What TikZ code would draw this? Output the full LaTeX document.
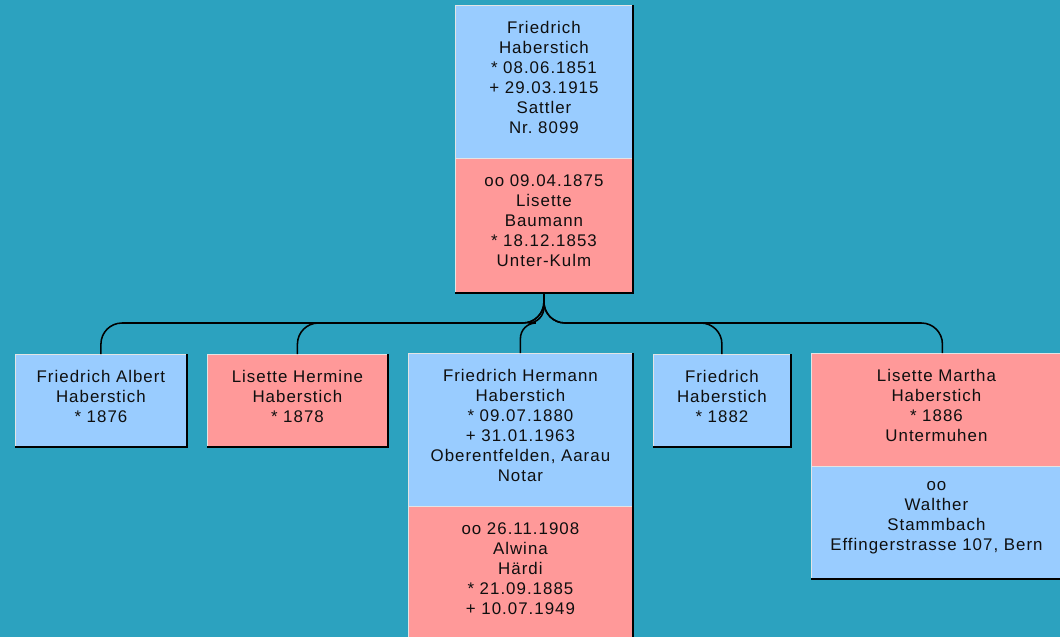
\documentclass[tikz,border=0pt]{standalone}
\usepackage{fontspec}
\setmainfont{Liberation Sans}[LetterSpace=6]
\usepackage{tikz}

\definecolor{bg}{RGB}{44,162,191}
\definecolor{male}{RGB}{153,204,255}
\definecolor{female}{RGB}{255,153,153}
\definecolor{rim}{RGB}{228,228,228}
\definecolor{ink}{RGB}{15,15,15}

\begin{document}
\begin{tikzpicture}[x=0.025cm,y=-0.025cm,
  size/.style 2 args={text width=#1*0.025cm,minimum height=#2*0.025cm},
  box/.style={draw=rim,line width=.6pt,anchor=north west,align=center,inner sep=0pt,
    font=\fontsize{12}{14.2}\selectfont,text=ink,execute at end node={\endgraf\kern0.22cm}},
  m/.style={box,fill=male},
  f/.style={box,fill=female},
  shade/.style={draw=black,line width=1pt},
  link/.style={draw=black,line width=1.1pt,rounded corners=15}]

\fill[bg] (0,0) rectangle (1060,637);
\useasboundingbox (0,0) rectangle (1060,637);
\clip (0,0) rectangle (1060,637);

\node[m,size={177}{153}] (fh) at (455,5) {Friedrich\\Haberstich\\{}* 08.06.1851\\+ 29.03.1915\\Sattler\\Nr.\ 8099};
\node[f,size={177}{134}] (fhm) at (455,158) {oo 09.04.1875\\Lisette\\Baumann\\{}* 18.12.1853\\Unter-Kulm};

\node[m,size={171}{92}] (c1) at (15,354) {Friedrich Albert\\Haberstich\\{}* 1876};
\node[f,size={180}{92}] (c2) at (207,354) {Lisette Hermine\\Haberstich\\{}* 1878};
\node[m,size={224}{153}] (c3) at (408,353) {Friedrich Hermann\\Haberstich\\{}* 09.07.1880\\+ 31.01.1963\\Oberentfelden, Aarau\\Notar};
\node[f,size={224}{134}] (c3m) at (408,506) {oo 26.11.1908\\Alwina\\Härdi\\{}* 21.09.1885\\+ 10.07.1949};
\node[m,size={137}{92}] (c4) at (653,354) {Friedrich\\Haberstich\\{}* 1882};
\node[f,size={250}{113}] (c5) at (811,353) {Lisette Martha\\Haberstich\\{}* 1886\\Untermuhen};
\node[m,size={250}{112}] (c5m) at (811,466) {oo\\Walther\\Stammbach\\Effingerstrasse 107, Bern};

\coordinate (bus) at (0,323);
\coordinate (c5in) at ([xshift=6*0.025cm]c5.north);

\draw[shade] (fh.north east) -- (fhm.south east) -- (fhm.south west);
\draw[shade] (c1.north east) |- (c1.south west);
\draw[shade] (c2.north east) |- (c2.south west);
\draw[shade] (c3.north east) |- (c3m.south west);
\draw[shade] (c4.north east) |- (c4.south west);
\draw[shade] (c5.north east) |- (c5m.south west);

\draw[link] (fhm.south) -- (fhm.south |- bus) -| (c1.north);
\draw[link] (fhm.south) -- (fhm.south |- bus) -| (c2.north);
\draw[link,rounded corners=11] (fhm.south) -- (fhm.south |- bus) -| (c3.north);
\draw[link] (fhm.south) -- (fhm.south |- bus) -| (c4.north);
\draw[link] (fhm.south) -- (fhm.south |- bus) -| (c5in);

\end{tikzpicture}
\end{document}
